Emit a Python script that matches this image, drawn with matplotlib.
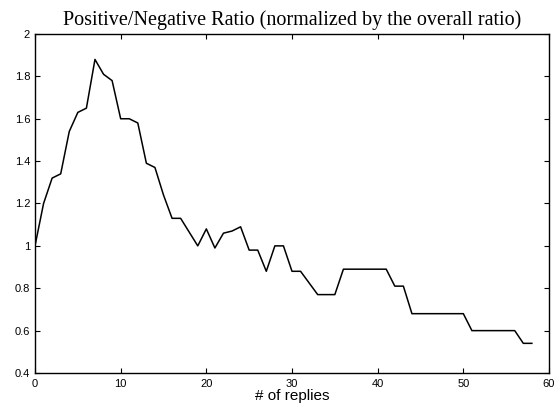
import matplotlib
matplotlib.use('Agg')
import matplotlib.pyplot as plt

# ratio per number of replies (0..58)
replies = list(range(0, 59))
ratio = [1.00, 1.20, 1.32, 1.34, 1.54, 1.63, 1.65, 1.88, 1.81, 1.78,
         1.60, 1.60, 1.58, 1.39, 1.37, 1.24, 1.13, 1.13, 1.065, 1.00,
         1.08, 0.99, 1.06, 1.07, 1.09, 0.98, 0.98, 0.88, 1.00, 1.00,
         0.88, 0.88, 0.825, 0.77, 0.77, 0.77, 0.89, 0.89, 0.89, 0.89,
         0.89, 0.89, 0.81, 0.81, 0.68, 0.68, 0.68, 0.68, 0.68, 0.68,
         0.68, 0.60, 0.60, 0.60, 0.60, 0.60, 0.60, 0.54, 0.54]
xticks = [0, 10, 20, 30, 40, 50, 60]
yticks = [0.4, 0.6, 0.8, 1.0, 1.2, 1.4, 1.6, 1.8, 2.0]
ylabels = ['0.4', '0.6', '0.8', '1', '1.2', '1.4', '1.6', '1.8', '2']

fig = plt.figure(figsize=(5.58, 4.08), dpi=100)
ax = fig.add_axes([35/558, 1 - 373/408, (549 - 35)/558, (373 - 34)/408])

ax.plot(replies, ratio, color='black', linewidth=1.1)

ax.set_xlim(0, 60)
ax.set_ylim(0.4, 2.0)
ax.set_xticks(xticks)
ax.set_xticklabels([str(t) for t in xticks])
ax.set_yticks(yticks)
ax.set_yticklabels(ylabels)
ax.tick_params(direction='in', length=3.6, width=0.8, top=True, right=True,
               labelsize=8, pad=3.5)
ax.tick_params(axis='x', pad=4)
for lab in ax.get_xticklabels() + ax.get_yticklabels():
    lab.set_family('Liberation Sans')
for sp in ax.spines.values():
    sp.set_linewidth(1.0)

ax.set_title('Positive/Negative Ratio (normalized by the overall ratio)',
             family='Liberation Serif', fontsize=14.5, pad=6.5)
ax.set_xlabel('# of replies', family='Liberation Sans', fontsize=11, labelpad=0)

fig.savefig('out.png', dpi=100)
